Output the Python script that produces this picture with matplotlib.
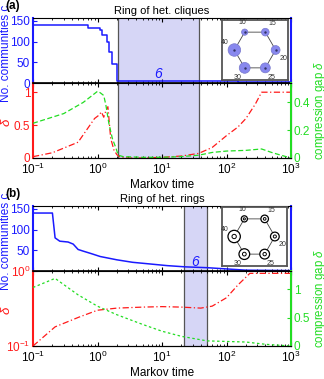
import numpy as np
import matplotlib
matplotlib.use("Agg")
import matplotlib.pyplot as plt
from matplotlib.patches import Circle

plt.rcParams['font.family'] = ['Liberation Sans', 'DejaVu Sans']
plt.rcParams['mathtext.fontset'] = 'custom'
plt.rcParams['mathtext.rm'] = 'Liberation Sans'
plt.rcParams['mathtext.it'] = 'Liberation Sans:italic'
plt.rcParams['font.size'] = 8

# ---- data: panel (a) ring of heterogeneous cliques ----
t_comm_a = [0.1, 0.71, 1.09, 1.17, 1.4, 1.5, 1.67, 2.0, 40, 150, 300, 1000]
comm_a = [141, 132, 128, 116, 100, 75, 45, 6, 5, 3, 2, 2]
t_red_a = [0.1, 0.2, 0.5, 0.9, 1.05, 1.15, 1.25, 1.35, 1.45, 1.6, 1.8, 2.0, 2.2,
           3, 5, 10, 20, 37, 60, 100, 150, 200, 280, 350, 1000]
red_a = [0.02, 0.08, 0.24, 0.6, 0.65, 0.7, 0.62, 0.72, 0.78, 0.3, 0.12, 0.05, 0.02,
         0.0, 0.0, 0.01, 0.03, 0.07, 0.16, 0.34, 0.47, 0.6, 0.82, 1.0, 1.0]
t_gap_a = [0.1, 0.3, 0.6, 1.0, 1.1, 1.25, 1.35, 1.5, 1.7, 1.9, 2.1, 2.5, 5, 10,
           20, 37, 60, 100, 200, 350, 500, 700, 1000]
gap_a = [0.25, 0.32, 0.4, 0.48, 0.47, 0.45, 0.38, 0.25, 0.14, 0.08, 0.02, 0.01,
         0.005, 0.005, 0.01, 0.02, 0.04, 0.05, 0.055, 0.065, 0.04, 0.02, 0.0]
span_a = (2.1, 37)

# ---- data: panel (b) ring of heterogeneous rings ----
t_comm_b = [0.1, 0.2, 0.22, 0.26, 0.35, 0.42, 0.5, 0.6, 0.8, 1.1, 2, 3.5, 6.5,
            12, 23, 50, 100, 200, 1000]
comm_b = [140, 140, 80, 72, 70, 65, 52, 48, 42, 35, 27, 21, 17, 13, 10, 8, 5, 2, 1]
t_red_b = [0.1, 0.22, 0.5, 1.0, 2, 5, 10, 20, 40, 60, 100, 150, 230, 1000]
red_b = [0.1, 0.18, 0.24, 0.30, 0.32, 0.33, 0.335, 0.33, 0.32, 0.34, 0.44, 0.65,
         0.93, 0.93]
t_gap_b = [0.1, 0.22, 0.5, 1.0, 2, 5, 10, 20, 50, 100, 200, 400, 1000]
gap_b = [1.03, 1.19, 0.9, 0.7, 0.55, 0.38, 0.26, 0.17, 0.09, 0.08, 0.07, 0.03, 0.0]
span_b = (22, 50)

node_sizes = [40, 10, 15, 20, 25, 30]
n_communities = 6

W, H = 324, 379
BLUE, RED, GREEN = '#1a1aff', '#ff1a1a', '#22dd22'
SHADE = '#d6d6f6'
TICK_FS = 8.5
LABEL_FS = 8.5


def rect(x0, y0, x1, y1):
    return [x0 / W, 1 - y1 / H, (x1 - x0) / W, (y1 - y0) / H]


def style_x(ax):
    ax.set_xscale('log')
    ax.set_xlim(0.1, 1000)
    ax.tick_params(which='both', direction='in', top=True, bottom=True)
    ax.tick_params(which='major', length=3)
    ax.tick_params(which='minor', length=1.5)


def shade(ax, span):
    ax.axvspan(span[0], span[1], facecolor=SHADE, edgecolor='none', zorder=0)
    for x in span:
        ax.axvline(x, color='#555555', lw=0.9, zorder=1)


def inset(rc, filled):
    ax = fig.add_axes(rc)
    ax.set_xlim(-1.6, 1.6)
    ax.set_ylim(-1.45, 1.45)
    ax.set_aspect('equal')
    ax.set_xticks([])
    ax.set_yticks([])
    for s in ax.spines.values():
        s.set_color('#555555')
        s.set_linewidth(1.3)
    ang = np.deg2rad([180, 120, 60, 0, -60, -120])
    px = np.cos(ang)
    py = np.sin(ang)
    ax.plot(np.append(px, px[0]), np.append(py, py[0]), color='#444444', lw=0.6, zorder=1)
    offs = [(-0.45, 0.35), (-0.1, 0.45), (0.35, 0.4), (0.4, -0.4), (0.3, -0.45), (-0.35, -0.45)]
    for x, y, n, (ox, oy) in zip(px, py, node_sizes, offs):
        r = 0.048 * np.sqrt(n)
        if filled:
            ax.add_patch(Circle((x, y), r, facecolor='#8888ee', edgecolor='#7777cc', lw=0.5, zorder=2))
            ax.plot(x, y, marker='.', ms=1.5, color='#333366', zorder=3)
        else:
            ax.add_patch(Circle((x, y), r, facecolor='white', edgecolor='black', lw=0.9, zorder=2))
            ax.add_patch(Circle((x, y), r * 0.35, facecolor='none', edgecolor='black', lw=0.7, zorder=3))
        ax.text(x + ox, y + oy, str(n), fontsize=5, ha='center', va='center', color='#333333')
    return ax


def panel(top_px, title, tag, comm_t, comm, red_t, red, gap_t, gap, span,
          logred, gap_ls, gap_lim, gap_ticks, red_lim, comm_ticks, steps, inset_rc, filled):
    ax1 = fig.add_axes(rect(33, top_px, 291, top_px + 65))
    ax2 = fig.add_axes(rect(33, top_px + 65, 291, top_px + 140))

    # community count
    shade(ax1, span)
    ax1.plot(comm_t, comm, color=BLUE, lw=1.1, drawstyle='steps-post' if steps else 'default')
    style_x(ax1)
    ax1.set_ylim(0, 157)
    ax1.set_yticks(comm_ticks)
    ax1.tick_params(axis='y', colors=BLUE, labelsize=TICK_FS, direction='in', length=3, pad=2)
    ax1.tick_params(axis='x', labelbottom=False)
    ax1.set_ylabel('No. communities c', color=BLUE, fontsize=LABEL_FS)
    ax1.yaxis.set_label_coords(-0.083, 0.45)
    for k in ('left', 'right'):
        ax1.spines[k].set_color(BLUE)
        ax1.spines[k].set_linewidth(1.5)
    ax1.set_title(title, fontsize=8, pad=3)
    ax1.text(-0.108, 1.1, tag, transform=ax1.transAxes, fontsize=8.5, fontweight='bold', va='bottom')
    ax1.text(np.sqrt(span[0] * span[1]), 4, str(n_communities), color=BLUE, fontsize=10,
             style='italic', ha='center', va='bottom')

    # normalized variation / compression gap
    shade(ax2, span)
    ax2.plot(red_t, red, color=RED, lw=0.9, ls=(0, (5, 2, 1, 2)))
    style_x(ax2)
    if logred:
        ax2.set_yscale('log')
        ax2.set_yticks([0.1, 1.0])
        ax2.minorticks_off()
        ax2.xaxis.set_minor_locator(matplotlib.ticker.LogLocator(subs=np.arange(2, 10)))
    else:
        ax2.set_yticks([0, 0.5, 1])
        ax2.set_yticklabels(['0', '0.5', '1'])
    ax2.set_ylim(*red_lim)
    ax2.tick_params(axis='y', colors=RED, labelsize=TICK_FS, direction='in', length=3, pad=2)
    ax2.tick_params(axis='x', labelsize=TICK_FS, pad=3)
    ax2.set_ylabel(r'$\tilde{\delta}$', color=RED, fontsize=9.5)
    ax2.yaxis.set_label_coords(-0.072, 0.48)
    ax2.spines['left'].set_color(RED)
    ax2.spines['left'].set_linewidth(1.5)
    ax2.spines['top'].set_linewidth(1.2)
    ax2.set_xlabel('Markov time', fontsize=LABEL_FS, labelpad=1)

    ax3 = ax2.twinx()
    ax3.plot(gap_t, gap, color=GREEN, lw=0.9, ls=gap_ls)
    ax3.set_ylim(*gap_lim)
    ax3.set_yticks(gap_ticks)
    ax3.set_yticklabels([('%g' % v) for v in gap_ticks])
    ax3.tick_params(axis='y', colors=GREEN, labelsize=TICK_FS, direction='in', length=3, pad=2)
    ax3.set_ylabel(r'compression gap $\delta$', color=GREEN, fontsize=8.3)
    ax3.yaxis.set_label_coords(1.08, 0.63)
    ax3.spines['right'].set_color(GREEN)
    ax3.spines['right'].set_linewidth(1.5)
    ax3.spines['left'].set_visible(False)

    inset(inset_rc, filled)


fig = plt.figure(figsize=(W / 100, H / 100), dpi=100)

panel(18, 'Ring of het. cliques', '(a)', t_comm_a, comm_a, t_red_a, red_a, t_gap_a, gap_a,
      span_a, False, (0, (4, 2)), (0, 0.54), [0, 0.2, 0.4], (0, 1.14), [0, 50, 100, 150],
      True, rect(222, 20, 288, 80), True)
panel(206, 'Ring of het. rings', '(b)', t_comm_b, comm_b, t_red_b, red_b, t_gap_b, gap_b,
      span_b, True, (0, (2, 2)), (0, 1.32), [0, 0.5, 1], (0.1, 1.0), [50, 100, 150],
      False, rect(221, 207, 288, 266), False)

fig.savefig('out.png', dpi=100)
